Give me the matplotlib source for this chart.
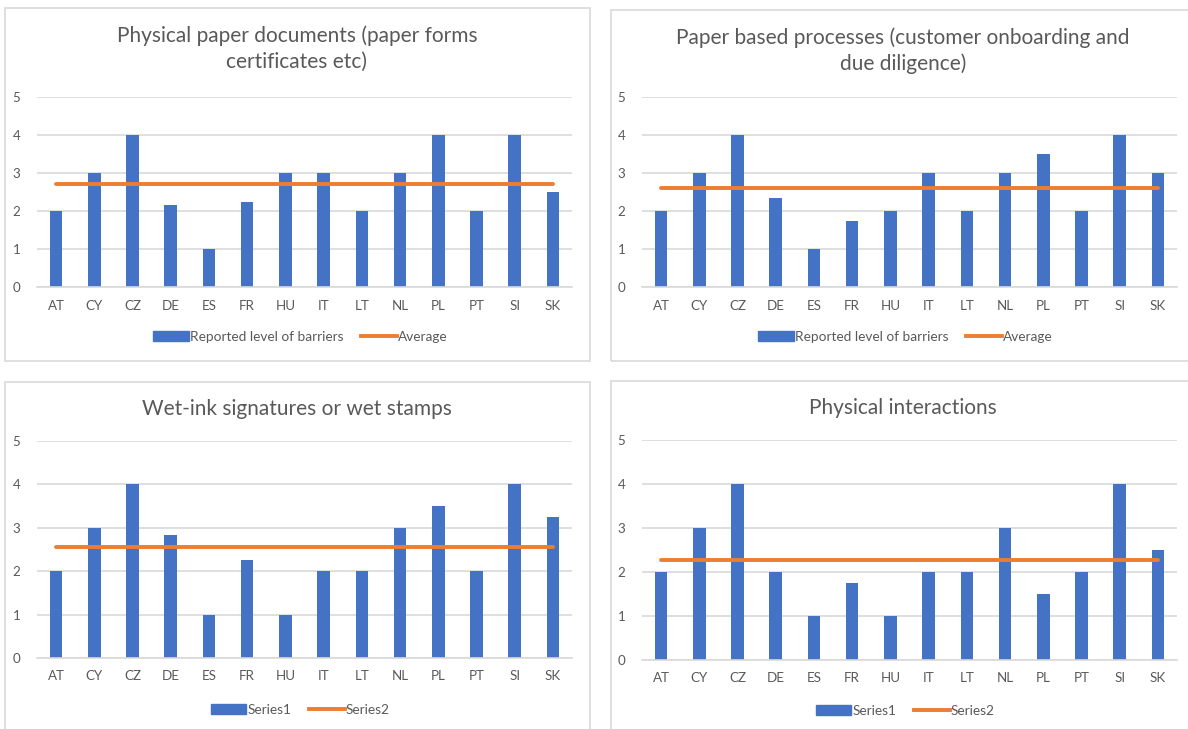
import matplotlib.pyplot as plt
from matplotlib.patches import Rectangle
from matplotlib.lines import Line2D

# Data
countries = ["AT", "CY", "CZ", "DE", "ES", "FR", "HU", "IT", "LT", "NL", "PL", "PT", "SI", "SK"]

paper_docs = [2, 3, 4, 2.17, 1, 2.25, 3, 3, 2, 3, 4, 2, 4, 2.5]
paper_processes = [2, 3, 4, 2.33, 1, 1.75, 2, 3, 2, 3, 3.5, 2, 4, 3]
wet_ink = [2, 3, 4, 2.83, 1, 2.25, 1, 2, 2, 3, 3.5, 2, 4, 3.25]
physical = [2, 3, 4, 2, 1, 1.75, 1, 2, 2, 3, 1.5, 2, 4, 2.5]

averages = [2.71, 2.61, 2.56, 2.27]

titles = [
    "Physical paper documents (paper forms\ncertificates etc)",
    "Paper based processes (customer onboarding and\ndue diligence)",
    "Wet-ink signatures or wet stamps",
    "Physical interactions",
]
legend_labels = [
    ("Reported level of barriers", "Average"),
    ("Reported level of barriers", "Average"),
    ("Series1", "Series2"),
    ("Series1", "Series2"),
]
series = [paper_docs, paper_processes, wet_ink, physical]

BLUE = "#4472C4"
ORANGE = "#ED7D31"
GRID = "#D9D9D9"
TEXT = "#595959"

plt.rcParams["font.family"] = ["Lato", "DejaVu Sans"]

W, H = 1188, 729
fig = plt.figure(figsize=(W / 100, H / 100), dpi=100)

def px_box(x0, y0, x1, y1):
    # pixel coords (top-left origin) -> figure fraction [left, bottom, w, h]
    return [x0 / W, 1 - y1 / H, (x1 - x0) / W, (y1 - y0) / H]

# panel borders (x0, y0, x1, y1) in pixels
borders = [(5, 8, 590, 361), (611, 10, 1200, 361), (5, 382, 590, 740), (611, 381, 1200, 740)]
# plot areas: (left, top(y=5), right, bottom(y=0))
plot_areas = [(37, 97, 572, 287), (642, 97, 1177, 287), (37, 441, 572, 658), (642, 440, 1177, 660)]
title_y = [49, 51, 409, 408]
title_x = [297, 903, 297, 903]
legend_y = [337, 337, 710, 711]

for i in range(4):
    bx0, by0, bx1, by1 = borders[i]
    fig.patches.append(Rectangle((bx0 / W, 1 - by1 / H), (bx1 - bx0) / W, (by1 - by0) / H,
                                 transform=fig.transFigure, fill=False,
                                 edgecolor=GRID, linewidth=1.2, zorder=0))

    l, t, r, b = plot_areas[i]
    ax = fig.add_axes(px_box(l, t, r, b))
    x = list(range(len(countries)))
    ax.bar(x, series[i], width=0.33, color=BLUE, zorder=2)
    ax.plot(x, [averages[i]] * len(x), color=ORANGE, linewidth=2.8, zorder=3,
            solid_capstyle="round")
    ax.set_xlim(-0.5, len(x) - 0.5)
    ax.set_ylim(0, 5)
    ax.set_yticks(range(6))
    ax.set_xticks(x)
    ax.set_xticklabels(countries)
    ax.tick_params(length=0, colors=TEXT, labelsize=9.6)
    ax.tick_params(axis="x", pad=9)
    ax.tick_params(axis="y", pad=12)
    ax.grid(axis="y", color=GRID, linewidth=1.2, zorder=0)
    ax.set_axisbelow(True)
    for s in ["top", "right", "left"]:
        ax.spines[s].set_visible(False)
    ax.spines["bottom"].set_color(GRID)
    ax.spines["bottom"].set_linewidth(1.2)

    fig.text(title_x[i] / W, 1 - title_y[i] / H, titles[i], ha="center", va="center",
             fontsize=15, color=TEXT, linespacing=1.35)

    handles = [Rectangle((0, 0), 1, 1, color=BLUE),
               Line2D([0], [0], color=ORANGE, linewidth=2.8)]
    fig.legend(handles, legend_labels[i], loc="center",
               bbox_to_anchor=(((l + r) / 2 - 4) / W, 1 - legend_y[i] / H),
               ncol=2, frameon=False, fontsize=9.8, labelcolor=TEXT,
               handlelength=2.6, handletextpad=0.1, columnspacing=1.3,
               handleheight=0.8)

fig.savefig("out.png", dpi=100)
